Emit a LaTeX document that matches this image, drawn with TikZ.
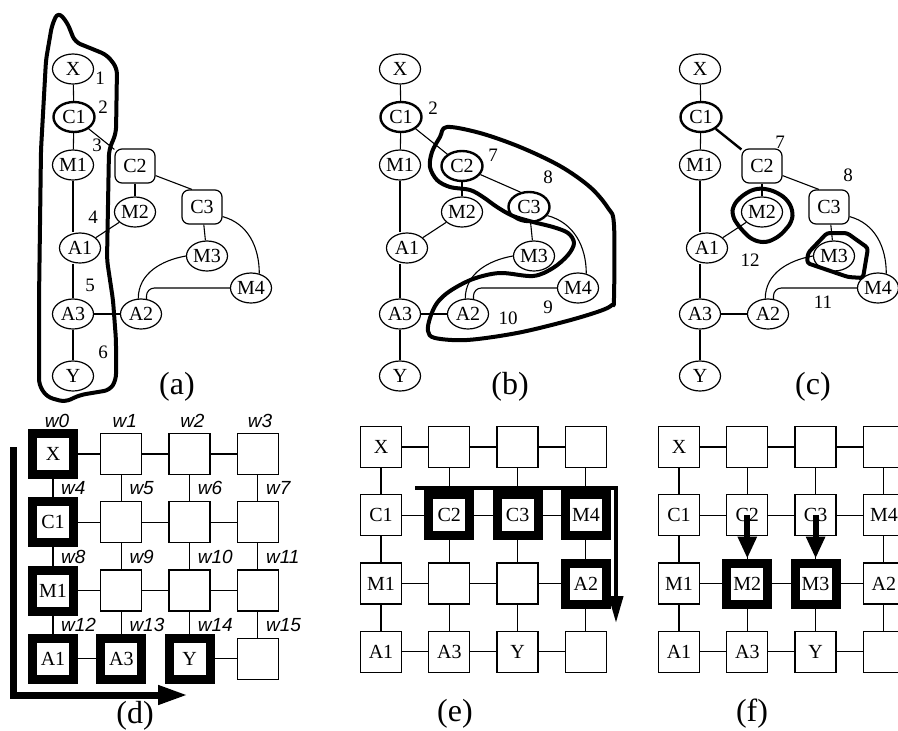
\documentclass[tikz,border=0pt]{standalone}
\usepackage{fontspec}
\setmainfont{Liberation Serif}
\setsansfont{Liberation Sans}
\usetikzlibrary{positioning, arrows.meta, shapes.geometric}

\begin{document}
\begin{tikzpicture}[
    x=1pt, y=-1pt,
    enode/.style={draw, ellipse, line width=1.2pt, minimum width=41pt, minimum height=30pt, inner sep=0pt, fill=white, font=\fontsize{20}{20}\selectfont},
    cbold/.style={enode, line width=2.4pt},
    cnode/.style={enode, rectangle, rounded corners=7pt, minimum width=40pt, minimum height=34pt},
    link/.style={line width=1.1pt},
    tlink/.style={line width=2.4pt},
    blob/.style={line width=4pt, line join=round},
    gbox/.style={draw, rectangle, line width=1.3pt, minimum size=41pt, inner sep=0pt, fill=white, font=\fontsize{20}{20}\selectfont},
    gbold/.style={gbox, line width=9pt},
    wlab/.style={font=\fontsize{19}{19}\selectfont\sffamily\itshape, inner sep=0pt},
    num/.style={font=\fontsize{19}{19}\selectfont, inner sep=0pt},
    paneltag/.style={font=\fontsize{32}{32}\selectfont, inner sep=0pt},
    darrow/.style={line width=7pt, -{Triangle[length=30pt, width=18pt]}},
    earrow/.style={line width=4pt, -{Triangle[length=27pt, width=14pt]}},
    farrow/.style={line width=6pt, -{Triangle[length=22pt, width=18pt]}}
]
\useasboundingbox (0,0) rectangle (898,731);

% Graphs (a), (b), (c)
\foreach \p/\dx/\cs/\ls in {a/0/cnode/link, b/327/cbold/link, c/627/cnode/tlink}{
  \begin{scope}[xshift=\dx, name prefix=\p-]
    \node[enode] (X) at (73,69) {X};
    \node[cbold] (C1) at (74,117) {C1};
    \node[enode] (M1) at (73,165) {M1};
    \node[\cs] (C2) at (135,166) {C2};
    \node[enode] (M2) at (135,212) {M2};
    \node[\cs] (C3) at (202,207) {C3};
    \node[enode] (A1) at (80,248) {A1};
    \node[enode] (M3) at (207,256) {M3};
    \node[enode] (M4) at (251,288) {M4};
    \node[enode] (A3) at (73,314) {A3};
    \node[enode] (A2) at (141,314) {A2};
    \node[enode] (Y) at (73,376) {Y};
    \draw[link] (X) -- (C1);
    \draw[link] (C1) -- (M1);
    \draw[link] (M1) -- (A1.north -| M1);
    \draw[link] (A1.south -| A3) -- (A3);
    \draw[link] (A3) -- (Y);
    \draw[\ls] (C1) -- (C2);
    \draw[link] (C2) -- (M2);
    \draw[link] (M2) -- (A1);
    \draw[link] (C2.-25) -- (C3.120);
    \draw[link] (C3) -- (M3);
    \draw[link] (A3) -- (A2);
    \draw[link] (A2.100) to[out=90, in=190] (M3.west);
    \draw[link, rounded corners=8pt] (A2.70) |- (M4.west);
    \draw[link] (C3.-25) to[out=-15, in=90] (M4.60);
  \end{scope}
}

% Regions
\draw[blob, rounded corners=6pt] (58,12) -- (67,22) -- (75,42) -- (90,48) -- (107,55) -- (117,68)
  -- (116,133) -- (109,150) -- (107,260) -- (113,300) -- (116,340) -- (116,380) -- (110,390)
  -- (80,395) -- (65,402) -- (47,397) -- (39,385) -- (39,300) -- (41,150) -- (46,60) -- (52,25) -- cycle;
\draw[blob] plot[smooth cycle, tension=0.55] coordinates {(447,127) (480,133) (520,147) (560,166)
  (590,187) (608,208) (614,225) (614,298) (612,305) (600,311) (567,321) (517,333) (467,340)
  (435,338) (428,331) (430,318) (437,303) (450,291) (473,279) (500,273) (533,276) (553,268)
  (568,255) (574,243) (568,233) (553,227) (533,222) (513,216) (497,207) (483,197) (470,190)
  (450,187) (437,180) (430,167) (432,152) (440,137)};
\draw[blob, rounded corners=6pt] (757,188) -- (772,190) -- (786,198) -- (793,210) -- (792,222)
  -- (780,236) -- (766,243) -- (752,240) -- (740,228) -- (732,216) -- (733,205) -- (744,194) -- cycle;
\draw[blob, rounded corners=3pt] (827,233) -- (847,233) -- (868,248) -- (863,278) -- (848,277)
  -- (807,263) -- (808,253) -- cycle;

% Step numbers
\node[num] (na1) at (100,78) {1};
\node[num] (na2) at (103,107) {2};
\node[num] (na3) at (97,145) {3};
\node[num] (na4) at (93,217) {4};
\node[num] (na5) at (90,285) {5};
\node[num] (na6) at (103,352) {6};
\node[num] (nb2) at (433,108) {2};
\node[num] (nb7) at (493,155) {7};
\node[num] (nb8) at (548,177) {8};
\node[num] (nb9) at (548,307) {9};
\node[num] (nb10) at (508,318) {10};
\node[num] (nc7) at (780,142) {7};
\node[num] (nc8) at (848,175) {8};
\node[num] (nc12) at (750,260) {12};
\node[num] (nc11) at (823,302) {11};

% Mesh (d)
\foreach \c/\r/\t/\s in {0/0/X/gbold, 1/0/{}/gbox, 2/0/{}/gbox, 3/0/{}/gbox,
    0/1/C1/gbold, 1/1/{}/gbox, 2/1/{}/gbox, 3/1/{}/gbox,
    0/2/M1/gbold, 1/2/{}/gbox, 2/2/{}/gbox, 3/2/{}/gbox,
    0/3/A1/gbold, 1/3/A3/gbold, 2/3/Y/gbold, 3/3/{}/gbox}
  \node[\s] (d\c\r) at (53+68.3*\c, 454+68.3*\r) {\t};
\foreach \a/\b in {0/1, 1/2, 2/3}
  \foreach \k in {0,1,2,3}
    \draw[link] (d\k\a) -- (d\k\b);
\foreach \a/\b in {0/1, 1/2, 2/3}
  \foreach \k in {0,1,2}
    \draw[link] (d\a\k) -- (d\b\k);
\draw[link] (d03) -- (d13);
\draw[link] (d23) -- (d33);
\foreach \c in {0,...,3}
  \node[wlab] (w\c) at (57+67.7*\c, 421) {w\c};
\foreach \r in {1,2,3}
  \foreach \c in {0,...,3}{
    \pgfmathtruncatemacro\k{4*\r+\c}
    \node[wlab, anchor=west] (w\k) at (61+68.3*\c, 420+68.3*\r) {w\k};
  }
\coordinate (dstart) at (13,447);
\coordinate (dend) at (188,695);
\draw[darrow] (dstart) |- (dend);

% Mesh (e)
\foreach \c/\r/\t/\s in {0/0/X/gbox, 1/0/{}/gbox, 2/0/{}/gbox, 3/0/{}/gbox,
    0/1/C1/gbox, 1/1/C2/gbold, 2/1/C3/gbold, 3/1/M4/gbold,
    0/2/M1/gbox, 1/2/{}/gbox, 2/2/{}/gbox, 3/2/A2/gbold,
    0/3/A1/gbox, 1/3/A3/gbox, 2/3/Y/gbox, 3/3/{}/gbox}
  \node[\s] (e\c\r) at (381+68.3*\c, 447+68.3*\r) {\t};

% Mesh (f)
\foreach \c/\r/\t/\s in {0/0/X/gbox, 1/0/{}/gbox, 2/0/{}/gbox, 3/0/{}/gbox,
    0/1/C1/gbox, 1/1/C2/gbox, 2/1/C3/gbox, 3/1/M4/gbox,
    0/2/M1/gbox, 1/2/M2/gbold, 2/2/M3/gbold, 3/2/A2/gbox,
    0/3/A1/gbox, 1/3/A3/gbox, 2/3/Y/gbox, 3/3/{}/gbox}
  \node[\s] (f\c\r) at (679+68.3*\c, 447+68.3*\r) {\t};

\foreach \g in {e,f}
  \foreach \a/\b in {0/1, 1/2, 2/3}
    \foreach \k in {0,1,2,3}{
      \draw[link] (\g\k\a) -- (\g\k\b);
      \draw[link] (\g\a\k) -- (\g\b\k);
    }

\coordinate (estart) at (415,488);
\coordinate (eend) at (616,623);
\draw[earrow] (estart) -| (eend);
\draw[farrow] (f11.center) -- (f12.north);
\draw[farrow] (f21.center) -- (f22.north);

% Captions
\node[paneltag] (la) at (177,387) {(a)};
\node[paneltag] (lb) at (510,387) {(b)};
\node[paneltag] (lc) at (813,387) {(c)};
\node[paneltag] (ld) at (135,716) {(d)};
\node[paneltag] (le) at (455,714) {(e)};
\node[paneltag] (lf) at (752,714) {(f)};

\end{tikzpicture}
\end{document}
